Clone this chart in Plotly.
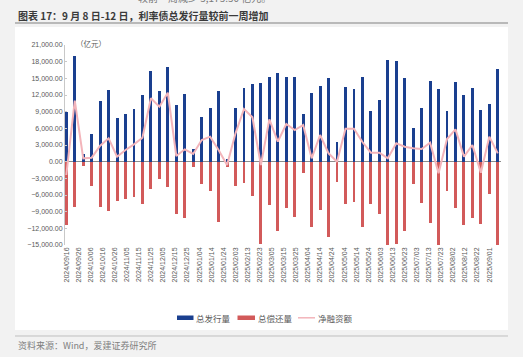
import plotly.graph_objects as go
import pandas as pd

# ---------------- data (亿元), weekly ----------------
week_start = "2024-09-16"
n_weeks = 52
dates = pd.date_range(start=week_start, periods=n_weeks, freq="7D")

issue = [8900, 19000, 1300, 5000, 11000, 12960, 7800, 8640, 9480, 12060,
         16320, 12660, 17100, 10200, 12120, 2280, 8100, 9660, 12660, 400,
         9600, 13200, 13980, 14220, 15300, 15960, 15240, 15300, 8520, 12300,
         13620, 15000, 3480, 13440, 13080, 15300, 9120, 11040, 18240, 18060,
         15000, 6000, 9660, 14520, 13140, 9180, 14280, 11940, 13200, 9300,
         10380, 16680]

repay = [-11400, -8220, -700, -4320, -8100, -8880, -7020, -6720, -6420, -7680,
         -4920, -3060, -4620, -9420, -10140, -1020, -4080, -5280, -10800, -1020,
         -4440, -3840, -6120, -14760, -7740, -12420, -8340, -9900, -1980, -11700,
         -8700, -13500, -3600, -7620, -7260, -11820, -7620, -9480, -17640, -14760,
         -12480, -4020, -7500, -11100, -15240, -5220, -8400, -11340, -10200, -11220,
         -5880, -15180]

net = [-2400, 10980, 600, 720, 2880, 4200, 900, 2100, 3120, 4320,
       11400, 9900, 12420, 1020, 2220, 1380, 3900, 4500, 2100, -600,
       5100, 9480, 7980, -600, 7620, 3600, 6780, 5700, 6600, 600,
       4800, 1500, 0, 5940, 5940, 3540, 1620, 1620, 600, 3300,
       2700, 2400, 2280, 3420, -2100, 4080, 5820, 900, 3000, -1980,
       4500, 1500]

series_names = ["总发行量", "总偿还量", "净融资额"]
y_min, y_max, y_step = -15000, 21000, 3000
x_range = ["2024-09-14 22:00", "2025-09-10 16:00"]
tick_step_days = 10

title_text = "图表 17：9 月 8 日-12 日，利率债总发行量较前一周增加"
top_cut_text = "较前一周减少 5,175.50 亿元。"
unit_text = "（亿元）"
source_text = "资料来源：Wind，爱建证券研究所"

# ---------------- styles ----------------
BLUE = "#1a3f8f"
RED = "#d25a5a"
PINK = "#f3b4ba"
W, H = 523, 357
ML, MR, MT, MB = 65, 22, 45, 112
PW, PH = W - ML - MR, H - MT - MB
CJK = "Noto Sans CJK SC"
LAT = "Liberation Sans"


def px2x(px):
    return (px - ML) / PW


def py2y(py):
    return (H - MB - py) / PH


bar_w = 2.4 * 86400000

fig = go.Figure()
fig.add_trace(go.Bar(x=dates, y=issue, name=series_names[0], marker_color=BLUE,
                     marker_line_width=0, width=bar_w, showlegend=False))
fig.add_trace(go.Bar(x=dates, y=repay, name=series_names[1], marker_color=RED,
                     marker_line_width=0, width=bar_w, showlegend=False))
fig.add_trace(go.Scatter(x=dates, y=net, name=series_names[2], mode="lines",
                         line=dict(color=PINK, width=2), showlegend=False))

shapes = [
    # white panel
    dict(type="rect", xref="paper", yref="paper", x0=px2x(15), x1=px2x(508),
         y0=py2y(330), y1=py2y(27), fillcolor="white", line=dict(width=0), layer="below"),
    # title rule
    dict(type="line", xref="paper", yref="paper", x0=px2x(15), x1=px2x(508),
         y0=py2y(23), y1=py2y(23), line=dict(color="#a6a6a6", width=1.5)),
    # footer rule
    dict(type="line", xref="paper", yref="paper", x0=px2x(15), x1=px2x(508),
         y0=py2y(336), y1=py2y(336), line=dict(color="#bfbfbf", width=1)),
    # legend symbols
    dict(type="rect", xref="paper", yref="paper", x0=px2x(177), x1=px2x(193.5),
         y0=py2y(320), y1=py2y(315.5), fillcolor=BLUE, line=dict(width=0)),
    dict(type="rect", xref="paper", yref="paper", x0=px2x(237.5), x1=px2x(255),
         y0=py2y(320), y1=py2y(315.5), fillcolor=RED, line=dict(width=0)),
    dict(type="line", xref="paper", yref="paper", x0=px2x(298), x1=px2x(315),
         y0=py2y(317.8), y1=py2y(317.8), line=dict(color=PINK, width=1.5)),
]

annotations = [
    dict(text=f"<b>{title_text}</b>", x=px2x(16), y=py2y(15), xref="paper", yref="paper",
         xanchor="left", yanchor="middle", showarrow=False,
         font=dict(family=CJK, size=10, color="#3a3a3a")),
    dict(text=top_cut_text, x=px2x(204), y=py2y(-2), xref="paper", yref="paper",
         xanchor="center", yanchor="middle", showarrow=False,
         font=dict(family=CJK, size=10, color="#7a7a7a")),
    dict(text=unit_text, x=px2x(91), y=py2y(43), xref="paper", yref="paper",
         xanchor="center", yanchor="middle", showarrow=False,
         font=dict(family=CJK, size=7.5, color="#595959")),
    dict(text=source_text, x=px2x(16), y=py2y(345), xref="paper", yref="paper",
         xanchor="left", yanchor="middle", showarrow=False,
         font=dict(family=CJK, size=9, color="#7f7f7f")),
]
for label, xpx in zip(series_names, [194, 256, 316]):
    annotations.append(dict(text=label, x=px2x(xpx), y=py2y(317.8), xref="paper", yref="paper",
                            xanchor="left", yanchor="middle", showarrow=False,
                            font=dict(family=CJK, size=8.5, color="#595959")))

fig.update_layout(
    width=W, height=H,
    margin=dict(l=ML, r=MR, t=MT, b=MB, pad=0),
    paper_bgcolor="#f2f2f2",
    plot_bgcolor="rgba(0,0,0,0)",
    barmode="overlay",
    bargap=0,
    shapes=shapes,
    annotations=annotations,
    xaxis=dict(type="date", range=x_range, tick0=week_start,
               dtick=tick_step_days * 86400000, tickformat="%Y/%m/%d",
               tickangle=-90, tickfont=dict(family=LAT, size=7, color="#595959"),
               showgrid=False, showline=False, zeroline=False, ticks=""),
    yaxis=dict(range=[y_min, y_max], dtick=y_step, tick0=0, tickformat=",.2f",
               tickfont=dict(family=LAT, size=7, color="#595959"),
               showgrid=False, zeroline=True, zerolinecolor="#8c8c8c", zerolinewidth=1,
               showline=True, linecolor="#c8c8c8", linewidth=1,
               ticks="inside", ticklen=2, tickcolor="#c8c8c8"),
)

fig.write_html("out.html")
